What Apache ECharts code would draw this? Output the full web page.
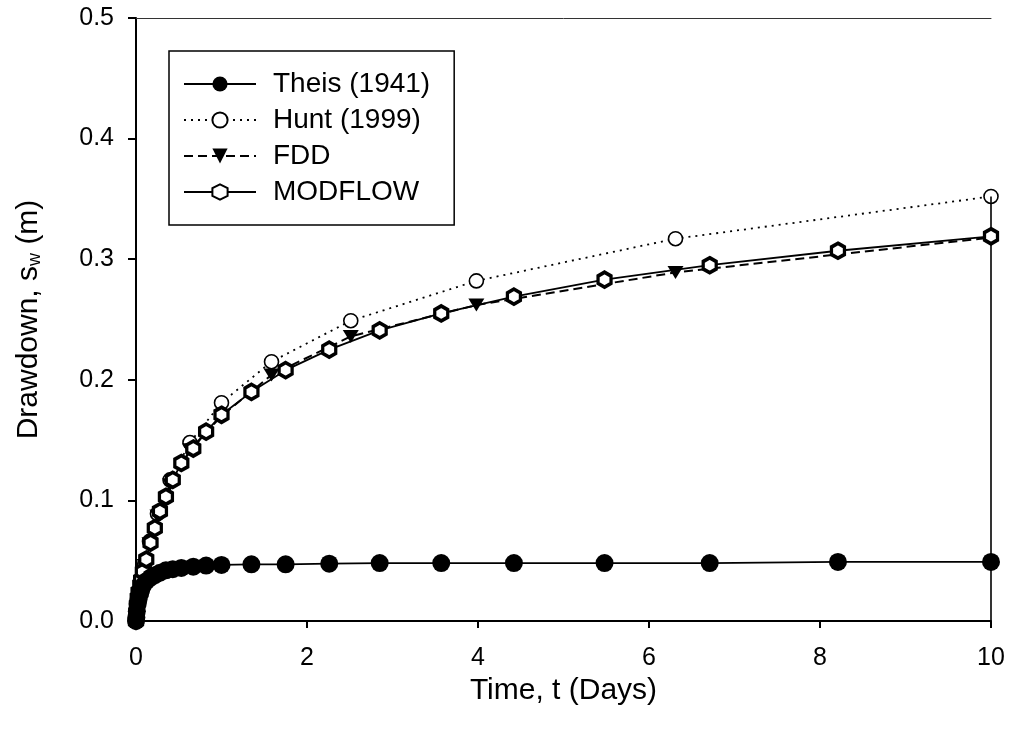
<!DOCTYPE html>
<html>
<head>
<meta charset="utf-8">
<script src="https://cdn.jsdelivr.net/npm/echarts@6/dist/echarts.min.js"></script>
<style>
html,body{margin:0;padding:0;background:#fff;}
#chart{width:1013px;height:735px;}
</style>
</head>
<body>
<div id="chart"></div>
<script>
// ---- data ----
const modelTimes = [0, 0.004, 0.01, 0.02, 0.03, 0.05, 0.06, 0.08, 0.12, 0.17, 0.22, 0.28, 0.35, 0.43, 0.53, 0.67, 0.82, 1.0, 1.35, 1.75, 2.26, 2.85, 3.57, 4.42, 5.48, 6.71, 8.21, 10];
const theisDrawdown = [0, 0.003, 0.008, 0.014, 0.018, 0.023, 0.026, 0.029, 0.033, 0.036, 0.038, 0.040, 0.042, 0.043, 0.044, 0.045, 0.046, 0.0465, 0.047, 0.047, 0.0475, 0.048, 0.048, 0.048, 0.048, 0.048, 0.049, 0.049];
const modflowDrawdown = [0, 0.007, 0.013, 0.019, 0.024, 0.030, 0.034, 0.041, 0.051, 0.065, 0.077, 0.091, 0.103, 0.117, 0.131, 0.143, 0.157, 0.171, 0.190, 0.208, 0.225, 0.241, 0.255, 0.269, 0.283, 0.295, 0.307, 0.319];
const analyticTimes = [0.01, 0.016, 0.025, 0.04, 0.063, 0.1, 0.158, 0.251, 0.398, 0.631, 1.0, 1.585, 2.512, 3.981, 6.31, 10];
const huntDrawdown = [0.005, 0.009, 0.014, 0.022, 0.033, 0.047, 0.066, 0.089, 0.117, 0.148, 0.181, 0.215, 0.249, 0.282, 0.317, 0.352];
const fddDrawdown = [0.005, 0.008, 0.013, 0.021, 0.032, 0.046, 0.064, 0.087, 0.113, 0.142, 0.170, 0.204, 0.236, 0.262, 0.289, 0.318];
const seriesNames = ['Theis (1941)', 'Hunt (1999)', 'FDD', 'MODFLOW'];
const xTickLabels = ['0', '2', '4', '6', '8', '10'];
const yTickLabels = ['0.0', '0.1', '0.2', '0.3', '0.4', '0.5'];

const pair = (ts, vs) => ts.map((t, i) => [t, vs[i]]);
const FONT = "'Liberation Sans', Arial, sans-serif";
const HEX = 'path://M0,-10L8.66,-5L8.66,5L0,10L-8.66,5L-8.66,-5Z';
const TRI = 'path://M0,0L10,0L5,8.66Z';

const chart = echarts.init(document.getElementById('chart'), null, {renderer: 'canvas'});
chart.setOption({
  backgroundColor: '#fff',
  animation: false,
  textStyle: {fontFamily: FONT, color: '#000'},
  grid: {left: 136, right: 22, top: 18, bottom: 114, containLabel: false},
  legend: {
    orient: 'vertical',
    left: 169, top: 51,
    data: seriesNames,
    itemWidth: 72, itemHeight: 19, itemGap: 0,
    padding: [15, 24, 15, 14],
    borderColor: '#000', borderWidth: 1.5,
    backgroundColor: '#fff',
    textStyle: {fontFamily: FONT, fontSize: 28, color: '#000', lineHeight: 36, padding: [0, 0, 0, 12]}
  },
  xAxis: [{
    type: 'value', min: 0, max: 10, interval: 2,
    name: 'Time, t (Days)', nameLocation: 'middle', nameGap: 52,
    nameTextStyle: {fontFamily: FONT, fontSize: 30, color: '#000'},
    axisLine: {lineStyle: {color: '#000', width: 2}},
    axisTick: {show: true, inside: false, length: 7, lineStyle: {color: '#000', width: 2}},
    axisLabel: {fontFamily: FONT, fontSize: 25, color: '#000', margin: 25,
      formatter: v => xTickLabels[Math.round(v / 2)]},
    splitLine: {show: false}
  }, {
    type: 'value', min: 0, max: 10, position: 'top',
    axisLine: {show: true, lineStyle: {color: '#333', width: 1}},
    axisTick: {show: false}, axisLabel: {show: false}, splitLine: {show: false}
  }],
  yAxis: {
    type: 'value', min: 0, max: 0.5, interval: 0.1,
    name: '{a|Drawdown, s}{s|w}{a| (m)}', nameLocation: 'middle', nameGap: 92, nameRotate: 90,
    nameTextStyle: {
      rich: {
        a: {fontFamily: FONT, fontSize: 30, color: '#000'},
        s: {fontFamily: FONT, fontSize: 18, color: '#000', verticalAlign: 'bottom', padding: [12, 0, 0, 0]}
      }
    },
    axisLine: {show: true, lineStyle: {color: '#000', width: 2}},
    axisTick: {show: true, inside: false, length: 8, lineStyle: {color: '#000', width: 2}},
    axisLabel: {fontFamily: FONT, fontSize: 25, color: '#000', margin: 22,
      formatter: v => yTickLabels[Math.round(v * 10)]},
    splitLine: {show: false}
  },
  series: [{
    name: seriesNames[0], type: 'line', data: pair(modelTimes, theisDrawdown),
    symbol: 'circle', symbolSize: 18, showAllSymbol: true,
    lineStyle: {color: '#000', width: 1.8},
    itemStyle: {color: '#000'}, z: 6
  }, {
    name: seriesNames[1], type: 'line', data: pair(analyticTimes, huntDrawdown),
    symbol: 'circle', symbolSize: 14, showAllSymbol: true,
    lineStyle: {color: '#000', width: 1.8, type: [2, 5]},
    itemStyle: {color: '#fff', borderColor: '#000', borderWidth: 1.6}, z: 3,
    markLine: {
      silent: true, symbol: 'none', label: {show: false},
      lineStyle: {color: '#000', width: 1.6, type: 'solid'},
      data: [[
        {coord: [analyticTimes[analyticTimes.length - 1], 0]},
        {coord: [analyticTimes[analyticTimes.length - 1], huntDrawdown[huntDrawdown.length - 1]]}
      ]]
    }
  }, {
    name: seriesNames[2], type: 'line', data: pair(analyticTimes, fddDrawdown),
    symbol: TRI, symbolSize: [16, 13], showAllSymbol: true,
    lineStyle: {color: '#000', width: 2, type: [9, 5]},
    itemStyle: {color: '#000'}, z: 4
  }, {
    name: seriesNames[3], type: 'line', data: pair(modelTimes, modflowDrawdown),
    symbol: HEX, symbolSize: [13, 15], showAllSymbol: true,
    lineStyle: {color: '#000', width: 1.8},
    itemStyle: {color: '#fff', borderColor: '#000', borderWidth: 3.5}, z: 5
  }]
});
</script>
</body>
</html>
